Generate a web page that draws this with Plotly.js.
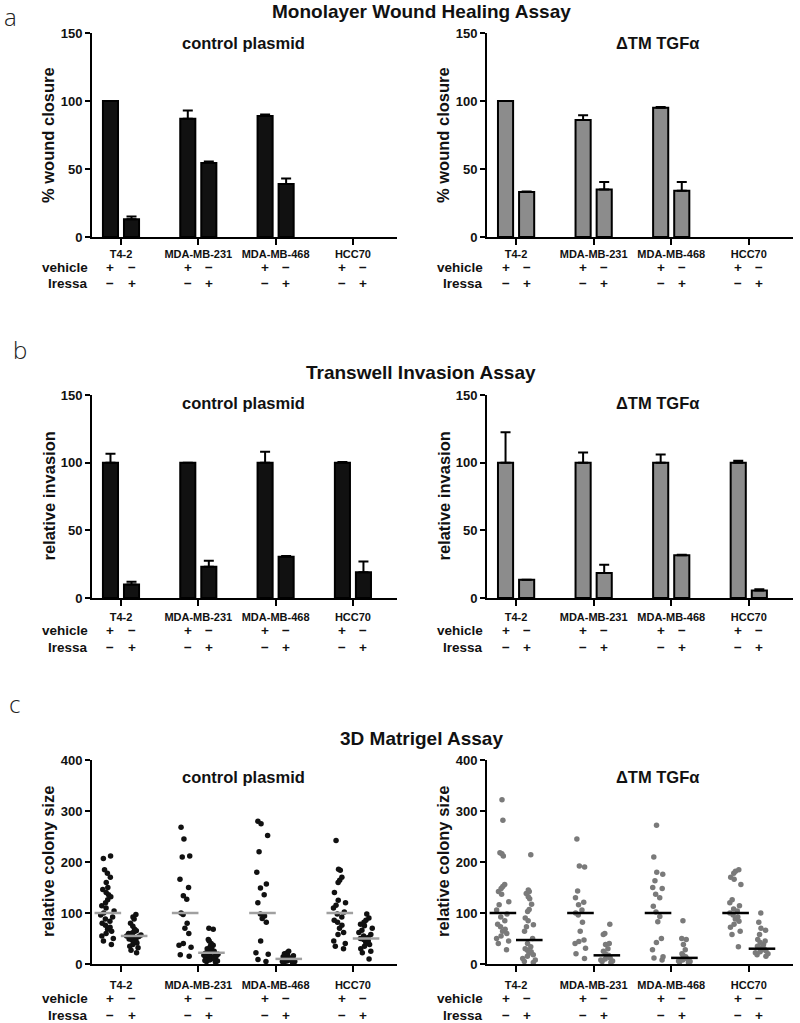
<!DOCTYPE html>
<html><head><meta charset="utf-8">
<script src="https://cdn.plot.ly/plotly-3.0.1.min.js"></script>
<style>html,body{margin:0;padding:0;background:#fff}#chart{width:800px;height:1023px}</style>
</head><body><div id="chart"></div>
<script>
// ---------- categories / labels ----------
const cellLines = ['T4-2', 'MDA-MB-231', 'MDA-MB-468', 'HCC70'];
const vehicleSigns = ['+', '−'];
const iressaSigns = ['−', '+'];
const yTicksBar = [0, 50, 100, 150];
const yTicksCol = [0, 100, 200, 300, 400];

// ---------- (a) Monolayer wound healing (% wound closure) ----------
const woundCtrlVeh = [100, 87, 89, null];
const woundCtrlVehErr = [0, 6, 1, 0];
const woundCtrlIr = [13, 54.5, 39, null];
const woundCtrlIrErr = [2, 1, 4, 0];
const woundTgfVeh = [100, 86, 95, null];
const woundTgfVehErr = [0, 3.5, 0.5, 0];
const woundTgfIr = [33, 35, 34, null];
const woundTgfIrErr = [0.5, 5.5, 6.5, 0];

// ---------- (b) Transwell invasion (relative invasion) ----------
const invCtrlVeh = [100, 100, 100, 100];
const invCtrlVehErr = [6.5, 0, 8, 0.5];
const invCtrlIr = [10, 23, 30.5, 19];
const invCtrlIrErr = [2, 4.5, 0.5, 8];
const invTgfVeh = [100, 100, 100, 100];
const invTgfVehErr = [22.5, 7.5, 6, 1.5];
const invTgfIr = [13.5, 18.5, 31.5, 5.5];
const invTgfIrErr = [0, 6, 0.5, 1];

// ---------- (c) 3D Matrigel (relative colony size), one list per cell line ----------
const colCtrlVeh = [
  [212, 207, 185, 178, 170, 160, 150, 146, 140, 136, 132, 126, 120, 114, 110, 104, 100, 96, 92, 88, 84, 80, 76, 72, 68, 64, 60, 55, 50, 45, 38],
  [268, 245, 212, 210, 166, 150, 134, 127, 100, 97, 80, 70, 60, 40, 37, 33, 18, 15],
  [280, 275, 252, 220, 180, 157, 149, 136, 120, 98, 94, 89, 82, 45, 22, 19, 9, 5],
  [242, 186, 184, 170, 164, 160, 140, 125, 120, 115, 110, 102, 98, 92, 86, 82, 76, 70, 62, 58, 45, 40, 35, 30]
];
const colCtrlIr = [
  [97, 92, 88, 80, 74, 68, 65, 63, 61, 60, 58, 57, 56, 55, 54, 53, 51, 49, 47, 45, 43, 41, 38, 35, 32, 27, 22],
  [70, 68, 48, 45, 40, 37, 35, 33, 30, 28, 27, 25, 24, 22, 21, 20, 19, 18, 17, 16, 15, 14, 13, 12, 11, 10, 9, 8, 7, 6, 5, 4],
  [25, 22, 20, 18, 16, 15, 14, 13, 12, 11, 10, 9, 8, 8, 7, 6, 5, 5, 4, 3],
  [98, 90, 86, 82, 78, 75, 70, 66, 62, 58, 55, 52, 50, 48, 45, 42, 38, 35, 30, 25, 22, 10]
];
const colTgfVeh = [
  [322, 282, 218, 216, 212, 156, 152, 148, 142, 137, 122, 116, 106, 98, 92, 85, 78, 73, 68, 64, 60, 55, 50, 45, 40, 28],
  [245, 192, 190, 143, 130, 121, 116, 106, 100, 96, 82, 64, 47, 44, 40, 31, 20, 11],
  [272, 210, 180, 176, 163, 150, 148, 137, 130, 113, 102, 93, 83, 50, 42, 28, 14, 12, 8],
  [185, 182, 178, 170, 166, 156, 126, 120, 114, 108, 104, 100, 96, 92, 88, 84, 78, 72, 64, 58, 34]
];
const colTgfIr = [
  [214, 145, 142, 138, 132, 128, 117, 107, 103, 90, 85, 77, 73, 64, 50, 40, 34, 30, 27, 24, 21, 18, 15, 11, 8, 5, 3],
  [78, 60, 58, 40, 38, 30, 25, 20, 17, 15, 12, 10, 8, 6, 5, 3],
  [85, 50, 48, 38, 28, 20, 17, 14, 12, 10, 8, 6, 5, 4, 3],
  [100, 82, 70, 66, 58, 48, 45, 42, 38, 35, 32, 30, 28, 26, 24, 22, 20, 18, 15]
];
const colCtrlVehMean = [100, 100, 100, 100];
const colCtrlIrMean = [55, 22, 10, 50];
const colTgfVehMean = [100, 100, 100, 100];
const colTgfIrMean = [47, 17, 12, 30];

// ---------- styling ----------
const F = 'Liberation Sans, Arial, Helvetica, sans-serif';
const W = 800, H = 1023;
const px = v => v / W;
const py = v => 1 - v / H;
const BLACK = '#111111', GREY_BAR = '#8c8c8c', GREY_PT = '#7a7a7a', GREY_MEAN = '#a0a0a0';
const xL = [px(92), px(397)], xR = [px(487), px(793)];
const yA = [py(237), py(33)], yB = [py(598), py(395)], yC = [py(964), py(760)];
const XRANGE = [-0.375, 3.57];
const SIGN_OFF = 0.136, DOT_OFF = 0.17;
const groupIdx = cellLines.map((_, i) => i);

function xAxis(domain, anchor, standoff) {
  return {
    domain: domain, anchor: anchor, range: XRANGE, tickmode: 'array',
    tickvals: groupIdx, ticktext: cellLines, ticks: 'outside', ticklen: 6, tickwidth: 2,
    tickcolor: '#000', showline: true, linewidth: 2, linecolor: '#000',
    showgrid: false, zeroline: false, ticklabelstandoff: standoff,
    tickfont: {family: F, size: 11, color: '#111', weight: 'bold'}, fixedrange: true
  };
}
function yAxis(domain, anchor, range, tickvals) {
  return {
    domain: domain, anchor: anchor, range: range, tickmode: 'array', tickvals: tickvals,
    ticks: 'outside', ticklen: 5, tickwidth: 2, tickcolor: '#000',
    showline: true, linewidth: 2, linecolor: '#000', showgrid: false, zeroline: false,
    tickfont: {family: F, size: 13, color: '#111', weight: 'bold'}, fixedrange: true
  };
}

const traces = [];
function barTrace(xa, ya, vals, errs, fill) {
  return {
    type: 'bar', x: groupIdx, y: vals, xaxis: xa, yaxis: ya,
    marker: {color: fill, line: {color: '#000', width: 2}},
    error_y: {type: 'data', symmetric: false, array: errs, arrayminus: errs.map(() => 0),
      color: '#000', thickness: 2, width: 5},
    showlegend: false, hoverinfo: 'y'
  };
}
traces.push(barTrace('x', 'y', woundCtrlVeh, woundCtrlVehErr, BLACK));
traces.push(barTrace('x', 'y', woundCtrlIr, woundCtrlIrErr, BLACK));
traces.push(barTrace('x2', 'y2', woundTgfVeh, woundTgfVehErr, GREY_BAR));
traces.push(barTrace('x2', 'y2', woundTgfIr, woundTgfIrErr, GREY_BAR));
traces.push(barTrace('x3', 'y3', invCtrlVeh, invCtrlVehErr, BLACK));
traces.push(barTrace('x3', 'y3', invCtrlIr, invCtrlIrErr, BLACK));
traces.push(barTrace('x4', 'y4', invTgfVeh, invTgfVehErr, GREY_BAR));
traces.push(barTrace('x4', 'y4', invTgfIr, invTgfIrErr, GREY_BAR));

function dotTraces(xa, ya, groups, side, color) {
  groups.forEach((vals, i) => {
    traces.push({
      type: 'box', y: vals, x0: i + side * DOT_OFF, width: 0.2, xaxis: xa, yaxis: ya,
      boxpoints: 'all', jitter: 1, pointpos: 0,
      marker: {color: color, size: 5.5},
      line: {width: 0, color: 'rgba(0,0,0,0)'}, fillcolor: 'rgba(0,0,0,0)',
      showlegend: false, hoverinfo: 'y'
    });
  });
}
function meanTrace(xa, ya, means, side, color) {
  traces.push({
    type: 'scatter', mode: 'markers', x: groupIdx.map(i => i + side * DOT_OFF), y: means,
    xaxis: xa, yaxis: ya, cliponaxis: false,
    marker: {symbol: 'line-ew', size: 19, line: {width: 2.5, color: color}},
    showlegend: false, hoverinfo: 'y'
  });
}
dotTraces('x5', 'y5', colCtrlVeh, -1, BLACK);
dotTraces('x5', 'y5', colCtrlIr, 1, BLACK);
dotTraces('x6', 'y6', colTgfVeh, -1, GREY_PT);
dotTraces('x6', 'y6', colTgfIr, 1, GREY_PT);
meanTrace('x5', 'y5', colCtrlVehMean, -1, GREY_MEAN);
meanTrace('x5', 'y5', colCtrlIrMean, 1, GREY_MEAN);
meanTrace('x6', 'y6', colTgfVehMean, -1, '#000');
meanTrace('x6', 'y6', colTgfIrMean, 1, '#000');

// ---------- annotations ----------
const ann = [];
function txt(x, y, text, size, opts) {
  ann.push(Object.assign({
    xref: 'paper', yref: 'paper', x: x, y: y, text: text, showarrow: false,
    xanchor: 'center', yanchor: 'middle',
    font: {family: F, size: size, color: '#111', weight: 'bold'}
  }, opts || {}));
}
// panel letters
[['a', 10, 17], ['b', 20, 350], ['c', 14, 703]].forEach(([t, x, y]) =>
  txt(px(x), py(y), t, 24, {borderpad: 0, font: {family: 'Open Sans, DejaVu Sans, sans-serif', size: 24, color: '#222', weight: 300}}));
// panel titles
txt(px(421), py(12), 'Monolayer Wound Healing Assay', 19, {borderpad: 0});
txt(px(421), py(372), 'Transwell Invasion Assay', 19);
txt(px(421), py(738), '3D Matrigel Assay', 19);

const panels = [
  {xa: 'x', yd: yA, xd: xL, sub: 'control plasmid', yt: '% wound closure', rows: [267, 283], subY: 43},
  {xa: 'x2', yd: yA, xd: xR, sub: 'ΔTM TGFα', yt: '% wound closure', rows: [267, 283], subY: 43},
  {xa: 'x3', yd: yB, xd: xL, sub: 'control plasmid', yt: 'relative invasion', rows: [630, 647], subY: 403},
  {xa: 'x4', yd: yB, xd: xR, sub: 'ΔTM TGFα', yt: 'relative invasion', rows: [630, 647], subY: 403},
  {xa: 'x5', yd: yC, xd: xL, sub: 'control plasmid', yt: 'relative colony size', rows: [998, 1015], subY: 777},
  {xa: 'x6', yd: yC, xd: xR, sub: 'ΔTM TGFα', yt: 'relative colony size', rows: [998, 1015], subY: 777}
];
panels.forEach((p, k) => {
  const left = p.xd[0];
  const right = k % 2 === 1;
  txt(right ? px(657) : px(243), py(p.subY), p.sub, 16.5);
  txt(left - px(44), (p.yd[0] + p.yd[1]) / 2, p.yt, 16.5, {textangle: -90});
  txt(left - px(2), py(p.rows[0]), 'vehicle', 13.5, {xanchor: 'right'});
  txt(left - px(2), py(p.rows[1]), 'Iressa', 13.5, {xanchor: 'right'});
  groupIdx.forEach(i => {
    [-1, 1].forEach((s, j) => {
      ann.push({xref: p.xa, yref: 'paper', x: i + s * SIGN_OFF, y: py(p.rows[0]), text: vehicleSigns[j],
        showarrow: false, xanchor: 'center', yanchor: 'middle',
        font: {family: F, size: 13.5, color: '#111', weight: 'bold'}});
      ann.push({xref: p.xa, yref: 'paper', x: i + s * SIGN_OFF, y: py(p.rows[1]), text: iressaSigns[j],
        showarrow: false, xanchor: 'center', yanchor: 'middle',
        font: {family: F, size: 13.5, color: '#111', weight: 'bold'}});
    });
  });
});

const layout = {
  width: W, height: H, autosize: false,
  margin: {l: 0, r: 0, t: 0, b: 0, pad: 0},
  paper_bgcolor: '#fff', plot_bgcolor: '#fff',
  showlegend: false, barmode: 'group', bargap: 0.456, bargroupgap: 0.283, boxmode: 'overlay',
  font: {family: F, color: '#111'},
  xaxis: xAxis(xL, 'y', 0), yaxis: yAxis(yA, 'x', [0, 150], yTicksBar),
  xaxis2: xAxis(xR, 'y2', 0), yaxis2: yAxis(yA, 'x2', [0, 150], yTicksBar),
  xaxis3: xAxis(xL, 'y3', 2), yaxis3: yAxis(yB, 'x3', [0, 150], yTicksBar),
  xaxis4: xAxis(xR, 'y4', 2), yaxis4: yAxis(yB, 'x4', [0, 150], yTicksBar),
  xaxis5: xAxis(xL, 'y5', 4), yaxis5: yAxis(yC, 'x5', [0, 400], yTicksCol),
  xaxis6: xAxis(xR, 'y6', 4), yaxis6: yAxis(yC, 'x6', [0, 400], yTicksCol),
  annotations: ann
};
Plotly.newPlot('chart', traces, layout, {displayModeBar: false, staticPlot: true});
</script>
</body></html>
